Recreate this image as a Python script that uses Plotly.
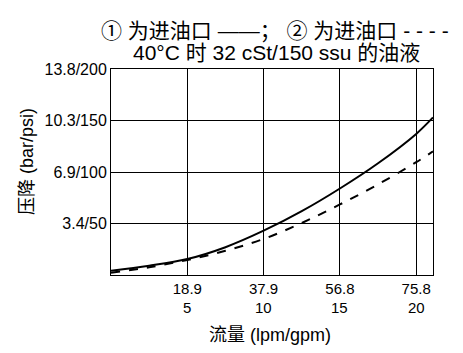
import plotly.graph_objects as go

# flow in gpm, pressure drop in psi
flow_gpm = [0, 2.5, 5, 7.5, 10, 12.5, 15, 17.5, 20, 21.1]
solid_psi = [4.2, 9, 15.5, 27, 43, 62, 84, 108.5, 137, 153]
dashed_psi = [2.2, 7.5, 14.6, 23.5, 35, 50.5, 68.5, 88, 109.5, 120]

x_tickvals = [5, 10, 15, 20]
x_ticktext_lpm = ["18.9", "37.9", "56.8", "75.8"]
x_ticktext_gpm = ["5", "10", "15", "20"]
y_tickvals = [50, 100, 150, 200]
y_ticktext = ["3.4/50", "6.9/100", "10.3/150", "13.8/200"]

title_line1 = "① 为进油口 ——； ② 为进油口 - - - -"
title_line2 = "40°C 时 32 cSt/150 ssu 的油液"
x_title = "流量 (lpm/gpm)"
y_title = "压降 (bar/psi)"

FONT = "Liberation Sans, Arial, Noto Sans CJK SC, sans-serif"

fig = go.Figure()
fig.add_trace(go.Scatter(x=flow_gpm, y=solid_psi, mode="lines",
                         line=dict(color="black", width=2, shape="spline"),
                         showlegend=False))
fig.add_trace(go.Scatter(x=flow_gpm, y=dashed_psi, mode="lines",
                         line=dict(color="black", width=2, dash="dash", shape="spline"),
                         showlegend=False))

annotations = [
    dict(text=title_line1, x=(274.5 - 111) / 322, y=1.184, xref="paper", yref="paper",
         showarrow=False, xanchor="center", yanchor="middle",
         font=dict(size=21, family=FONT)),
    dict(text=title_line2, x=(276 - 111) / 322, y=1.08, xref="paper", yref="paper",
         showarrow=False, xanchor="center", yanchor="middle",
         font=dict(size=21, family=FONT)),
    dict(text=x_title, x=0.495, y=-0.291, xref="paper", yref="paper",
         showarrow=False, xanchor="center", yanchor="middle",
         font=dict(size=18, family=FONT)),
    dict(text=y_title, x=-0.263, y=0.55, xref="paper", yref="paper",
         showarrow=False, xanchor="center", yanchor="middle", textangle=-90,
         font=dict(size=18, family=FONT)),
]
for xv, txt in zip(x_tickvals, x_ticktext_gpm):
    annotations.append(dict(text=txt, x=xv, y=-0.158, xref="x", yref="paper",
                            showarrow=False, xanchor="center", yanchor="middle",
                            font=dict(size=15, family=FONT)))

fig.update_layout(
    width=463, height=353,
    margin=dict(l=111, r=30, t=69, b=78),
    paper_bgcolor="white", plot_bgcolor="white",
    font=dict(family=FONT, color="black", size=16),
    annotations=annotations,
)
fig.update_xaxes(range=[0, 21.1], tickvals=x_tickvals, ticktext=x_ticktext_lpm,
                 showgrid=True, gridcolor="black", gridwidth=1,
                 showline=True, linecolor="black", linewidth=1, mirror=True,
                 ticks="", zeroline=False, tickfont=dict(size=15))
fig.update_yaxes(range=[0, 200], tickvals=y_tickvals, ticktext=y_ticktext,
                 showgrid=True, gridcolor="black", gridwidth=1,
                 showline=True, linecolor="black", linewidth=1, mirror=True,
                 ticks="", zeroline=False, tickfont=dict(size=16))

fig.write_html("out.html")
